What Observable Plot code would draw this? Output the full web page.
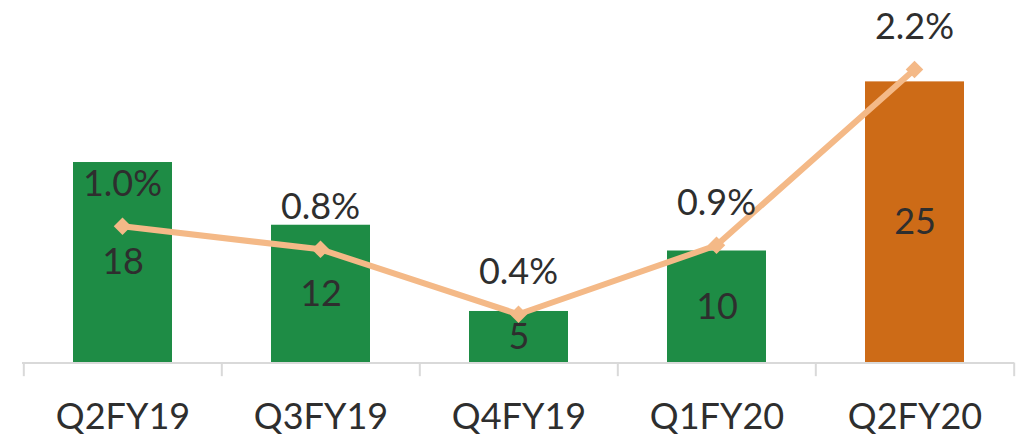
<!DOCTYPE html>
<html>
<head>
<meta charset="utf-8">
<script src="https://cdn.jsdelivr.net/npm/d3@7"></script>
<script src="https://cdn.jsdelivr.net/npm/@observablehq/plot@0.6"></script>
<style>
  html, body { margin: 0; padding: 0; background: #fff; }
  #chart { position: relative; width: 1020px; height: 436px; }
  #chart svg { position: absolute; left: 0; top: 0; }
</style>
</head>
<body>
<div id="chart"></div>
<script>
// Data
const quarters = ["Q2FY19", "Q3FY19", "Q4FY19", "Q1FY20", "Q2FY20"];
const barValues = [17.9, 12.3, 4.6, 10.0, 25.1];
const barLabels = ["18", "12", "5", "10", "25"];
const pctValues = [1.01, 0.84, 0.36, 0.87, 2.17];
const pctLabels = ["1.0%", "0.8%", "0.4%", "0.9%", "2.2%"];
const highlight = "Q2FY20";

const bars = quarters.map((q, i) => ({q, v: barValues[i], label: barLabels[i]}));
const pcts = quarters.map((q, i) => ({q, p: pctValues[i], label: pctLabels[i]}));

const W = 1020, H = 436;
const mL = 22, mR = 6, mT = 0, mB = 73.5;
const plotH = H - mT - mB;
const barMax = plotH / 11.2;     // bar units visible
const pctMax = plotH / 135.3;    // percent units visible
const step = (W - mL - mR) / quarters.length;

const xOpts = {domain: quarters, paddingInner: 0.5, paddingOuter: 0.25};
const font = "Lato, 'Open Sans', sans-serif";
const textColor = "#2e2e2e";
const fs = 36;

const green = "#1e8c45", orange = "#cd6b17", lineColor = "#f4b987", axisColor = "#d9d9d9";

const p1 = Plot.plot({
  width: W, height: H,
  marginLeft: mL, marginRight: mR, marginTop: mT, marginBottom: mB,
  style: {fontFamily: font, fontSize: fs + "px", color: textColor, background: "transparent", overflow: "visible"},
  x: {...xOpts, label: null},
  y: {domain: [0, barMax], axis: null},
  marks: [
    Plot.barY(bars, {x: "q", y: "v", fill: d => d.q === highlight ? orange : green}),
    Plot.ruleY([0], {stroke: axisColor, strokeWidth: 2}),
    Plot.ruleX(quarters, {x: d => d, dx: -step / 2, y1: 0, y2: -1.22, stroke: axisColor, strokeWidth: 2}),
    Plot.ruleX([quarters[quarters.length - 1]], {x: d => d, dx: step / 2, y1: 0, y2: -1.22, stroke: axisColor, strokeWidth: 2}),
    Plot.text(bars, {x: "q", y: d => d.v / 2, text: "label", fontSize: fs, fill: textColor}),
    Plot.axisX({tickSize: 0, tickPadding: 40, fontSize: fs, fill: textColor, label: null})
  ]
});

const p2 = Plot.plot({
  width: W, height: H,
  marginLeft: mL, marginRight: mR, marginTop: mT, marginBottom: mB,
  style: {fontFamily: font, fontSize: fs + "px", color: textColor, background: "transparent"},
  x: {...xOpts, axis: null},
  y: {domain: [0, pctMax], axis: null},
  marks: [
    Plot.line(pcts, {x: "q", y: "p", stroke: lineColor, strokeWidth: 6, strokeLinejoin: "round"}),
    Plot.dot(pcts, {x: "q", y: "p", symbol: "square", rotate: 45, r: 7, fill: lineColor, stroke: "none"}),
    Plot.text(pcts, {x: "q", y: "p", text: "label", dy: -42, fontSize: fs, fill: textColor})
  ]
});

const el = document.getElementById("chart");
el.appendChild(p1);
el.appendChild(p2);
</script>
</body>
</html>
